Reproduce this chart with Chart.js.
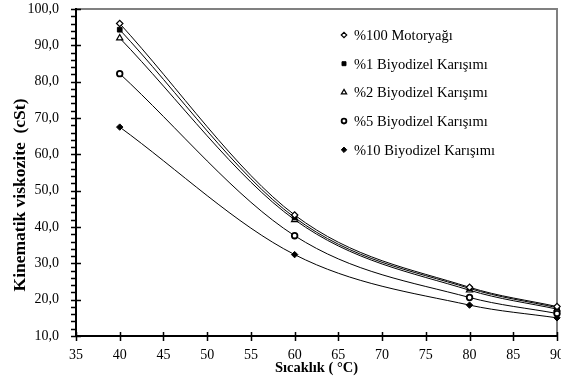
<!DOCTYPE html>
<html>
<head>
<meta charset="utf-8">
<script src="https://cdn.jsdelivr.net/npm/chart.js@4/dist/chart.umd.min.js"></script>
<style>
html,body{margin:0;padding:0;background:#fff;}
#wrap{width:561px;height:385px;position:relative;}
</style>
</head>
<body>
<div id="wrap"><canvas id="c" width="561" height="385"></canvas></div>
<script>
const temperatures = [40, 60, 80, 90];
const motoryagi100 = [96.0, 43.3, 23.4, 18.1];
const biyodizel1 = [94.3, 42.6, 23.1, 17.8];
const biyodizel2 = [92.0, 42.0, 22.6, 17.4];
const biyodizel5 = [82.2, 37.6, 20.6, 16.2];
const biyodizel10 = [67.5, 32.4, 18.5, 15.0];
const seriesLabels = ['%100 Motoryağı', '%1 Biyodizel Karışımı', '%2 Biyodizel Karışımı', '%5 Biyodizel Karışımı', '%10 Biyodizel Karışımı'];
const xTitle = 'Sıcaklık ( °C)';
const yTitle = 'Kinematik viskozite  (cSt)';

const FONT = '"Liberation Serif", "Times New Roman", serif';
const styles = [
  {pointStyle: 'rectRot', fill: '#fff', r: 3.2, bw: 1.2},
  {pointStyle: 'rect', fill: '#000', r: 3.3, bw: 1},
  {pointStyle: 'triangle', fill: '#fff', r: 3.6, bw: 1.2},
  {pointStyle: 'circle', fill: '#fff', r: 2.8, bw: 1.8},
  {pointStyle: 'rectRot', fill: '#000', r: 3.2, bw: 1}
];
const allSeries = [motoryagi100, biyodizel1, biyodizel2, biyodizel5, biyodizel10];

const datasets = allSeries.map((vals, i) => ({
  label: seriesLabels[i],
  data: temperatures.map((t, j) => ({x: t, y: vals[j]})),
  borderColor: '#000',
  borderWidth: 1,
  cubicInterpolationMode: 'monotone',
  pointStyle: styles[i].pointStyle,
  pointRadius: styles[i].r,
  pointBackgroundColor: styles[i].fill,
  pointBorderColor: '#000',
  pointBorderWidth: styles[i].bw,
  fill: false,
  clip: false
}));

const decor = {
  id: 'decor',
  beforeDatasetsDraw(chart) {
    const ctx = chart.ctx, a = chart.chartArea;
    ctx.save();
    ctx.strokeStyle = '#808080';
    ctx.lineWidth = 2;
    ctx.beginPath();
    ctx.moveTo(a.left, a.top); ctx.lineTo(a.right, a.top); ctx.lineTo(a.right, a.bottom);
    ctx.stroke();
    ctx.restore();
  },
  afterDatasetsDraw(chart) {
    const ctx = chart.ctx, a = chart.chartArea;
    const xs = chart.scales.x, ys = chart.scales.y;
    ctx.save();
    ctx.strokeStyle = '#000';
    ctx.lineWidth = 2;
    ctx.beginPath();
    ctx.moveTo(a.left, a.top - 1); ctx.lineTo(a.left, a.bottom); ctx.lineTo(a.right, a.bottom);
    ctx.stroke();
    ctx.lineWidth = 1.5;
    ctx.beginPath();
    for (let v = 10; v <= 100; v += 2) {
      const y = Math.round(ys.getPixelForValue(v)) + 0.5;
      if (v % 10 === 0) { ctx.moveTo(a.left - 5, y); ctx.lineTo(a.left + 5, y); }
      else { ctx.moveTo(a.left - 5, y); ctx.lineTo(a.left, y); }
    }
    for (let v = 35; v <= 90; v += 5) {
      const x = Math.round(xs.getPixelForValue(v)) + 0.5;
      ctx.moveTo(x, a.bottom - 4); ctx.lineTo(x, a.bottom + 5);
    }
    ctx.stroke();
    // y-axis title
    ctx.save();
    ctx.translate(20, 195);
    ctx.rotate(-Math.PI / 2);
    ctx.font = 'bold 17.5px ' + FONT;
    ctx.fillStyle = '#000';
    ctx.textAlign = 'center';
    ctx.textBaseline = 'middle';
    ctx.fillText(yTitle, 0, 0);
    ctx.restore();
    // legend
    const lx = 344, tx = 354, y0 = 35, dy = 28.7;
    ctx.font = '14.5px ' + FONT;
    ctx.textBaseline = 'middle';
    chart.data.datasets.forEach((ds, i) => {
      const y = y0 + i * dy;
      ctx.fillStyle = ds.pointBackgroundColor;
      ctx.strokeStyle = '#000';
      ctx.lineWidth = ds.pointBorderWidth;
      Chart.helpers.drawPoint(ctx, {pointStyle: ds.pointStyle, radius: ds.pointRadius * 0.85, borderWidth: ds.pointBorderWidth, rotation: 0}, lx, y);
      ctx.fillStyle = '#000';
      ctx.fillText(ds.label, tx, y + 1);
    });
    ctx.restore();
  }
};

new Chart(document.getElementById('c'), {
  type: 'line',
  data: {datasets},
  plugins: [decor],
  options: {
    responsive: false,
    animation: false,
    layout: {autoPadding: false, padding: {top: 9, right: 4, left: 0, bottom: 0}},
    plugins: {legend: {display: false}, tooltip: {enabled: false}},
    scales: {
      x: {
        type: 'linear', min: 35, max: 90,
        border: {display: false},
        grid: {display: false},
        ticks: {stepSize: 5, autoSkip: false, maxRotation: 0, color: '#000', font: {family: FONT, size: 14}, padding: 3},
        title: {display: true, text: xTitle, color: '#000', font: {family: FONT, size: 14.5, weight: 'bold'}, padding: {top: 0, bottom: 8}},
        afterFit(s) { s.height = 49; s.paddingLeft = 0; s.paddingRight = 0; }
      },
      y: {
        type: 'linear', min: 10, max: 100,
        border: {display: false},
        grid: {display: false},
        ticks: {stepSize: 10, color: '#000', font: {family: FONT, size: 14}, padding: 9,
          callback: v => v.toFixed(1).replace('.', ',')},
        title: {display: false, text: yTitle},
        afterFit(s) { s.width = 76; s.paddingTop = 0; s.paddingBottom = 0; }
      }
    }
  }
});
</script>
</body>
</html>
